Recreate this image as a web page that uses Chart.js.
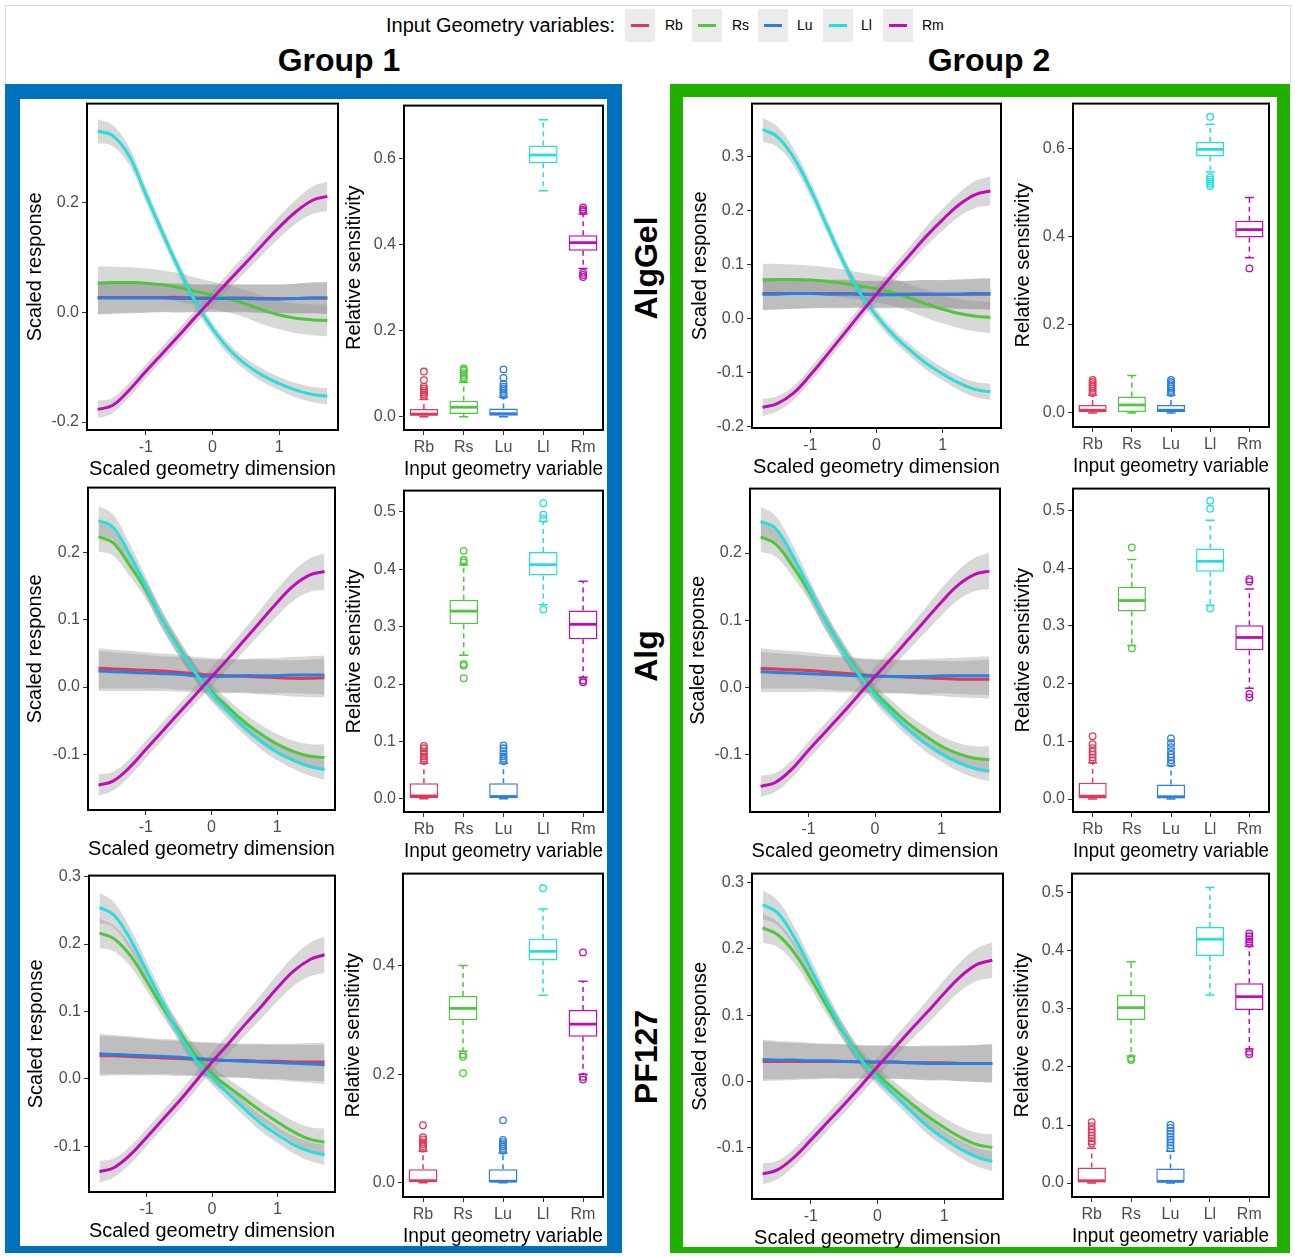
<!DOCTYPE html>
<html>
<head>
<meta charset="utf-8">
<script src="https://cdn.jsdelivr.net/npm/chart.js@4.4.0/dist/chart.umd.min.js"></script>
<style>
  body { margin: 0; background: #fff; font-family: "Liberation Sans", Arial, sans-serif; }
  #page { position: relative; width: 1295px; height: 1256px; overflow: hidden; background: #fff; }
  .frame { position: absolute; box-sizing: border-box; }
  .grp { position: absolute; font-weight: bold; font-size: 32px; transform: translate(-50%, -50%); white-space: nowrap; }
  .rowlab { position: absolute; font-weight: bold; font-size: 32px; transform: translate(-50%, -50%) rotate(-90deg); white-space: nowrap; }
  .key { position: absolute; top: 9px; width: 30px; height: 33px; background: #ebebeb; }
  .key i { position: absolute; left: 6px; top: 15px; width: 18px; height: 3px; }
  .klab { position: absolute; top: 17px; font-size: 14px; }
  canvas { position: absolute; }
</style>
</head>
<body>
<div id="page">
  <div class="frame" style="left:5px;top:5px;width:1286px;height:80px;border:1px solid #ddd;border-bottom:none;"></div>
  <div style="position:absolute;left:386px;top:13px;font-size:20px;line-height:24px;">Input Geometry variables:</div>
  <div id="legend"></div>
  <div class="grp" style="left:339px;top:60px;">Group 1</div>
  <div class="grp" style="left:989px;top:60px;">Group 2</div>
  <div class="frame" style="left:5px;top:84px;width:617px;height:1169px;border:15px solid #0071bc;border-bottom-width:7px;"></div>
  <div class="frame" style="left:670px;top:84px;width:620px;height:1169px;border:13px solid #21b000;border-bottom-width:6px;"></div>
  <div class="rowlab" style="left:646px;top:268px;">AlgGel</div>
  <div class="rowlab" style="left:646px;top:656px;">Alg</div>
  <div class="rowlab" style="left:646px;top:1057px;">PF127</div>
</div>
<script>
// ---- data ----
const varNames = ['Rb', 'Rs', 'Lu', 'Ll', 'Rm'];
const varColors = ['#dc3a58', '#4cc83a', '#2a7fe0', '#26dede', '#c00cb8'];

// scaled geometry dimension (x) used by every response curve
const geomX = [-1.72, -1.5, -1.25, -1, -0.75, -0.5, -0.25, 0, 0.25, 0.5, 0.75, 1, 1.25, 1.5, 1.72];

// half widths of the grey confidence bands
const bandFlat = [0.030, 0.029, 0.028, 0.027, 0.026, 0.026, 0.025, 0.025, 0.025, 0.025, 0.026, 0.026, 0.027, 0.028, 0.029];
const bandRs = [0.022, 0.019, 0.016, 0.014, 0.013, 0.012, 0.012, 0.012, 0.012, 0.013, 0.014, 0.015, 0.016, 0.018, 0.020];
const bandLl = [0.022, 0.019, 0.016, 0.014, 0.013, 0.012, 0.011, 0.011, 0.011, 0.011, 0.012, 0.012, 0.013, 0.014, 0.015];
const bandRm = [0.016, 0.014, 0.013, 0.013, 0.013, 0.013, 0.013, 0.014, 0.015, 0.016, 0.018, 0.020, 0.022, 0.025, 0.027];

// Group 1 - AlgGel
const g1AlgGelRb = [0.027, 0.027, 0.027, 0.027, 0.027, 0.027, 0.026, 0.026, 0.026, 0.026, 0.025, 0.025, 0.025, 0.026, 0.026];
const g1AlgGelRs = [0.053, 0.054, 0.054, 0.053, 0.050, 0.045, 0.038, 0.031, 0.024, 0.015, 0.004, -0.005, -0.011, -0.014, -0.015];
const g1AlgGelLu = [0.026, 0.026, 0.026, 0.026, 0.026, 0.025, 0.025, 0.025, 0.025, 0.025, 0.024, 0.024, 0.025, 0.026, 0.026];
const g1AlgGelLl = [0.330, 0.322, 0.285, 0.215, 0.145, 0.078, 0.018, -0.030, -0.068, -0.095, -0.115, -0.130, -0.142, -0.150, -0.153];
const g1AlgGelRm = [-0.177, -0.170, -0.142, -0.108, -0.075, -0.042, -0.008, 0.025, 0.058, 0.090, 0.123, 0.155, 0.183, 0.204, 0.211];
// Group 2 - AlgGel
const g2AlgGelRb = [0.046, 0.046, 0.046, 0.046, 0.046, 0.046, 0.045, 0.045, 0.045, 0.045, 0.045, 0.045, 0.045, 0.045, 0.045];
const g2AlgGelRs = [0.071, 0.072, 0.072, 0.071, 0.069, 0.065, 0.060, 0.055, 0.048, 0.038, 0.027, 0.017, 0.009, 0.004, 0.002];
const g2AlgGelLu = [0.045, 0.045, 0.046, 0.046, 0.045, 0.045, 0.045, 0.044, 0.044, 0.045, 0.045, 0.045, 0.045, 0.046, 0.046];
const g2AlgGelLl = [0.350, 0.337, 0.298, 0.240, 0.172, 0.105, 0.047, 0.005, -0.030, -0.058, -0.083, -0.103, -0.120, -0.132, -0.136];
const g2AlgGelRm = [-0.165, -0.158, -0.138, -0.105, -0.068, -0.030, 0.008, 0.045, 0.082, 0.117, 0.152, 0.183, 0.211, 0.230, 0.236];
// Group 1 - Alg
const g1AlgRb = [0.028, 0.027, 0.026, 0.025, 0.024, 0.022, 0.020, 0.018, 0.017, 0.016, 0.015, 0.014, 0.013, 0.013, 0.014];
const g1AlgRs = [0.224, 0.215, 0.182, 0.145, 0.100, 0.060, 0.022, -0.007, -0.030, -0.052, -0.070, -0.085, -0.096, -0.103, -0.105];
const g1AlgLu = [0.024, 0.023, 0.022, 0.021, 0.020, 0.019, 0.017, 0.016, 0.016, 0.017, 0.017, 0.017, 0.018, 0.018, 0.018];
const g1AlgLl = [0.248, 0.238, 0.198, 0.150, 0.100, 0.058, 0.022, -0.010, -0.036, -0.060, -0.080, -0.097, -0.109, -0.118, -0.123];
const g1AlgRm = [-0.146, -0.140, -0.120, -0.093, -0.066, -0.039, -0.012, 0.015, 0.042, 0.070, 0.098, 0.126, 0.151, 0.167, 0.172];
// Group 2 - Alg
const g2AlgRb = [0.028, 0.027, 0.026, 0.025, 0.023, 0.021, 0.019, 0.017, 0.016, 0.015, 0.014, 0.013, 0.012, 0.012, 0.012];
const g2AlgRs = [0.224, 0.214, 0.182, 0.144, 0.100, 0.059, 0.022, -0.008, -0.032, -0.054, -0.072, -0.088, -0.099, -0.106, -0.108];
const g2AlgLu = [0.023, 0.022, 0.021, 0.020, 0.019, 0.018, 0.017, 0.016, 0.016, 0.016, 0.016, 0.017, 0.017, 0.017, 0.017];
const g2AlgLl = [0.247, 0.237, 0.198, 0.149, 0.099, 0.057, 0.020, -0.012, -0.039, -0.063, -0.083, -0.099, -0.112, -0.121, -0.125];
const g2AlgRm = [-0.148, -0.142, -0.122, -0.094, -0.067, -0.040, -0.012, 0.016, 0.043, 0.071, 0.099, 0.127, 0.152, 0.168, 0.173];
// Group 1 - PF127
const g1PfRb = [0.034, 0.034, 0.033, 0.032, 0.031, 0.030, 0.029, 0.028, 0.027, 0.027, 0.026, 0.026, 0.025, 0.025, 0.025];
const g1PfRs = [0.216, 0.208, 0.183, 0.145, 0.105, 0.070, 0.035, 0.007, -0.012, -0.030, -0.048, -0.064, -0.079, -0.090, -0.094];
const g1PfLu = [0.037, 0.036, 0.035, 0.034, 0.033, 0.032, 0.030, 0.029, 0.027, 0.026, 0.025, 0.024, 0.023, 0.022, 0.021];
const g1PfLl = [0.254, 0.243, 0.207, 0.160, 0.112, 0.066, 0.028, 0.002, -0.022, -0.045, -0.066, -0.083, -0.098, -0.108, -0.113];
const g1PfRm = [-0.138, -0.132, -0.113, -0.087, -0.060, -0.033, -0.004, 0.025, 0.052, 0.080, 0.107, 0.135, 0.160, 0.177, 0.184];
// Group 2 - PF127
const g2PfRb = [0.030, 0.030, 0.030, 0.030, 0.030, 0.030, 0.029, 0.029, 0.029, 0.028, 0.028, 0.028, 0.027, 0.027, 0.027];
const g2PfRs = [0.232, 0.222, 0.195, 0.155, 0.112, 0.072, 0.037, 0.010, -0.012, -0.033, -0.053, -0.070, -0.085, -0.096, -0.100];
const g2PfLu = [0.033, 0.032, 0.032, 0.031, 0.031, 0.030, 0.030, 0.029, 0.029, 0.028, 0.027, 0.027, 0.027, 0.027, 0.027];
const g2PfLl = [0.267, 0.255, 0.218, 0.170, 0.120, 0.073, 0.033, 0.005, -0.020, -0.045, -0.068, -0.087, -0.103, -0.115, -0.121];
const g2PfRm = [-0.140, -0.134, -0.115, -0.089, -0.062, -0.035, -0.007, 0.022, 0.050, 0.078, 0.105, 0.133, 0.159, 0.177, 0.183];

// relative sensitivity boxes: [lower whisker, q1, median, q3, upper whisker] for Rb, Rs, Lu, Ll, Rm
const boxG1AlgGel = [[0, 0.002, 0.006, 0.018, 0.040], [0, 0.006, 0.022, 0.037, 0.080], [0, 0.002, 0.007, 0.019, 0.045], [0.526, 0.590, 0.609, 0.631, 0.691], [0.345, 0.386, 0.405, 0.422, 0.472]];
const outG1AlgGel = [[0.048, 0.052, 0.056, 0.06, 0.065, 0.07, 0.085, 0.105], [0.088, 0.092, 0.097, 0.102, 0.108, 0.112], [0.05, 0.055, 0.06, 0.065, 0.07, 0.076, 0.09, 0.11], [], [0.325, 0.33, 0.335, 0.478, 0.482, 0.487]];
const boxG2AlgGel = [[0, 0.002, 0.006, 0.018, 0.040], [0, 0.002, 0.018, 0.037, 0.085], [0, 0.002, 0.006, 0.018, 0.040], [0.547, 0.582, 0.598, 0.615, 0.655], [0.352, 0.398, 0.416, 0.436, 0.489]];
const outG2AlgGel = [[0.045, 0.05, 0.055, 0.06, 0.065, 0.07, 0.075], [], [0.045, 0.05, 0.055, 0.06, 0.065, 0.07, 0.075], [0.515, 0.52, 0.525, 0.53, 0.535, 0.672], [0.328]];
const boxG1Alg = [[0, 0.001, 0.005, 0.027, 0.062], [0.250, 0.304, 0.327, 0.347, 0.408], [0, 0.001, 0.004, 0.027, 0.062], [0.338, 0.389, 0.408, 0.430, 0.483], [0.212, 0.278, 0.304, 0.328, 0.379]];
const outG1Alg = [[0.066, 0.07, 0.074, 0.078, 0.083, 0.088, 0.092], [0.21, 0.232, 0.235, 0.412, 0.416, 0.432], [0.066, 0.07, 0.074, 0.078, 0.083, 0.088, 0.093], [0.33, 0.488, 0.495, 0.515], [0.203, 0.206]];
const boxG2Alg = [[0, 0.001, 0.005, 0.028, 0.063], [0.266, 0.325, 0.344, 0.368, 0.415], [0, 0.001, 0.004, 0.025, 0.058], [0.336, 0.394, 0.412, 0.434, 0.483], [0.192, 0.258, 0.280, 0.301, 0.364]];
const outG2Alg = [[0.067, 0.072, 0.077, 0.082, 0.088, 0.095, 0.109], [0.261, 0.436], [0.062, 0.067, 0.072, 0.077, 0.083, 0.09, 0.097, 0.105], [0.330, 0.503, 0.517], [0.176, 0.182, 0.377, 0.381]];
const boxG1Pf = [[0, 0.001, 0.004, 0.025, 0.058], [0.242, 0.299, 0.321, 0.344, 0.400], [0, 0.001, 0.003, 0.025, 0.055], [0.345, 0.409, 0.426, 0.449, 0.504], [0.200, 0.269, 0.292, 0.318, 0.371]];
const outG1Pf = [[0.063, 0.067, 0.071, 0.075, 0.08, 0.084, 0.106], [0.202, 0.232, 0.236], [0.059, 0.063, 0.067, 0.071, 0.075, 0.079, 0.115], [0.542], [0.19, 0.195, 0.424]];
const boxG2Pf = [[0, 0.001, 0.004, 0.027, 0.060], [0.219, 0.281, 0.302, 0.324, 0.381], [0, 0.001, 0.003, 0.025, 0.055], [0.324, 0.391, 0.420, 0.441, 0.509], [0.231, 0.298, 0.321, 0.344, 0.408]];
const outG2Pf = [[0.068, 0.072, 0.077, 0.082, 0.087, 0.092, 0.098, 0.105], [0.212, 0.215], [0.06, 0.065, 0.07, 0.075, 0.08, 0.085, 0.09, 0.095, 0.1], [], [0.222, 0.226, 0.412, 0.416, 0.42, 0.425, 0.43]];

// ---- drawing ----
const FONT = "'Liberation Sans', Arial, sans-serif";
Chart.defaults.font.family = FONT;
const page = document.getElementById('page');
const PAD_T = 12, PAD_R = 6, X_H = 51;
const TITLE_SIZE = 20;

// legend keys in the header
const keyLeft = [625, 692, 758, 823, 883];
const labLeft = [665, 732, 797, 861, 922];
const legend = document.getElementById('legend');
varNames.forEach((n, i) => {
  legend.insertAdjacentHTML('beforeend',
    `<div class="key" style="left:${keyLeft[i]}px"><i style="background:${varColors[i]}"></i></div>` +
    `<div class="klab" style="left:${labLeft[i]}px">${n}</div>`);
});

const framePlugin = {
  id: 'frame',
  afterDraw(chart) {
    const a = chart.chartArea, c = chart.ctx;
    c.save();
    c.strokeStyle = '#000';
    c.lineWidth = 2;
    c.strokeRect(a.left, a.top, a.right - a.left, a.bottom - a.top);
    c.restore();
  }
};

function makeCanvas(r) {
  const w = r.yW + (r.R - r.L) + PAD_R;
  const h = PAD_T + (r.B - r.T) + X_H;
  const cv = document.createElement('canvas');
  cv.width = w; cv.height = h;
  cv.style.left = (r.L - r.yW) + 'px';
  cv.style.top = (r.T - PAD_T) + 'px';
  cv.style.width = w + 'px';
  cv.style.height = h + 'px';
  page.appendChild(cv);
  return cv;
}

function fmt1(v) { return Math.abs(v) < 1e-9 ? '0.0' : Number(v).toFixed(1); }

function axisY(r, min, max, step, title) {
  return {
    min: min, max: max,
    afterFit: s => { s.width = r.yW; },
    ticks: { stepSize: step, includeBounds: false, color: '#4d4d4d', font: { size: 16 }, padding: 3, callback: v => fmt1(v) },
    grid: { drawOnChartArea: false, drawTicks: true, tickLength: 5, color: '#333' },
    border: { display: false },
    title: { display: true, text: title, color: '#000', font: { size: TITLE_SIZE }, padding: 0 }
  };
}

function axisXTitle(title) {
  return { display: true, text: title, color: '#000', font: { size: TITLE_SIZE }, padding: 0 };
}

function responsePanel(r, yMin, yMax, yStep, series, bands) {
  const datasets = [];
  series.forEach((vals, i) => {
    datasets.push({
      data: geomX.map((x, k) => ({ x: x, y: vals[k] - bands[i][k] })),
      borderWidth: 0, pointRadius: 0, fill: false, order: 10, tension: 0.4
    });
    datasets.push({
      data: geomX.map((x, k) => ({ x: x, y: vals[k] + bands[i][k] })),
      borderWidth: 0, pointRadius: 0, fill: '-1', backgroundColor: 'rgba(140,140,140,0.34)',
      order: 10, tension: 0.4
    });
  });
  series.forEach((vals, i) => {
    datasets.push({
      data: geomX.map((x, k) => ({ x: x, y: vals[k] })),
      borderColor: varColors[i], borderWidth: 3, pointRadius: 0, fill: false,
      order: 5 - i, tension: 0.4
    });
  });
  new Chart(makeCanvas(r), {
    type: 'line',
    data: { datasets: datasets },
    options: {
      responsive: false, animation: false,
      layout: { padding: { top: PAD_T, right: PAD_R, left: 0, bottom: 0 } },
      plugins: { legend: { display: false }, tooltip: { enabled: false } },
      scales: {
        x: {
          type: 'linear', min: -1.88, max: 1.88,
          afterFit: s => { s.height = X_H; },
          ticks: { stepSize: 1, includeBounds: false, color: '#4d4d4d', font: { size: 16 }, padding: 3 },
          grid: { drawOnChartArea: false, drawTicks: true, tickLength: 5, color: '#333' },
          border: { display: false },
          title: axisXTitle('Scaled geometry dimension')
        },
        y: axisY(r, yMin, yMax, yStep, 'Scaled response')
      }
    },
    plugins: [framePlugin]
  });
}

function sensitivityPanel(r, yMin, yMax, yStep, stats, outliers) {
  const outPts = [], outCols = [];
  outliers.forEach((list, i) => list.forEach(v => { outPts.push({ x: varNames[i], y: v }); outCols.push(varColors[i]); }));
  const whiskers = {
    id: 'whiskers',
    afterDatasetsDraw(chart) {
      const y = chart.scales.y, c = chart.ctx;
      const meta = chart.getDatasetMeta(0);
      stats.forEach((s, i) => {
        const bar = meta.data[i];
        const cx = bar.x, half = bar.width / 2, cap = half * 0.32;
        const p = s.map(v => y.getPixelForValue(v));
        c.save();
        c.strokeStyle = varColors[i];
        c.lineWidth = 1.5;
        c.setLineDash([5, 4]);
        c.beginPath();
        c.moveTo(cx, p[1]); c.lineTo(cx, p[0]);
        c.moveTo(cx, p[3]); c.lineTo(cx, p[4]);
        c.stroke();
        c.setLineDash([]);
        c.beginPath();
        c.moveTo(cx - cap, p[0]); c.lineTo(cx + cap, p[0]);
        c.moveTo(cx - cap, p[4]); c.lineTo(cx + cap, p[4]);
        c.stroke();
        c.lineWidth = 2.8;
        c.beginPath();
        c.moveTo(cx - half + 1, p[2]); c.lineTo(cx + half - 1, p[2]);
        c.stroke();
        c.restore();
      });
    }
  };
  new Chart(makeCanvas(r), {
    type: 'bar',
    data: {
      labels: varNames,
      datasets: [
        {
          data: stats.map(s => [s[1], s[3]]),
          backgroundColor: '#fff', borderColor: varColors, borderWidth: 1.5, borderSkipped: false,
          barPercentage: 0.72, categoryPercentage: 1
        },
        {
          type: 'line', showLine: false, data: outPts,
          pointRadius: 3.3, pointBorderWidth: 1.3, pointBackgroundColor: 'rgba(0,0,0,0)', pointBorderColor: outCols
        }
      ]
    },
    options: {
      responsive: false, animation: false,
      layout: { padding: { top: PAD_T, right: PAD_R, left: 0, bottom: 0 } },
      plugins: { legend: { display: false }, tooltip: { enabled: false } },
      scales: {
        x: {
          type: 'category',
          afterFit: s => { s.height = X_H; },
          ticks: { color: '#4d4d4d', font: { size: 16 }, padding: 3 },
          grid: { offset: false, drawOnChartArea: false, drawTicks: true, tickLength: 5, color: '#333' },
          border: { display: false },
          title: axisXTitle('Input geometry variable')
        },
        y: axisY(r, yMin, yMax, yStep, 'Relative sensitivity')
      }
    },
    plugins: [whiskers, framePlugin]
  });
}

const bandsFlatRs = [bandFlat, bandFlat, bandFlat, bandLl, bandRm];
const bandsSlopeRs = [bandFlat, bandRs, bandFlat, bandLl, bandRm];

// row 1: AlgGel
responsePanel({ L: 87, T: 103, R: 338, B: 430, yW: 64 }, -0.2145, 0.380, 0.2,
  [g1AlgGelRb, g1AlgGelRs, g1AlgGelLu, g1AlgGelLl, g1AlgGelRm], bandsFlatRs);
sensitivityPanel({ L: 404, T: 105, R: 603, B: 430, yW: 62 }, -0.031, 0.724, 0.2, boxG1AlgGel, outG1AlgGel);
responsePanel({ L: 752, T: 103, R: 1001, B: 428, yW: 64 }, -0.203, 0.398, 0.1,
  [g2AlgGelRb, g2AlgGelRs, g2AlgGelLu, g2AlgGelLl, g2AlgGelRm], bandsFlatRs);
sensitivityPanel({ L: 1073, T: 103, R: 1269, B: 427, yW: 62 }, -0.032, 0.702, 0.2, boxG2AlgGel, outG2AlgGel);

// row 2: Alg
responsePanel({ L: 88, T: 487, R: 335, B: 810, yW: 65 }, -0.183, 0.297, 0.1,
  [g1AlgRb, g1AlgRs, g1AlgLu, g1AlgLl, g1AlgRm], bandsSlopeRs);
sensitivityPanel({ L: 404, T: 490, R: 603, B: 812, yW: 62 }, -0.023, 0.537, 0.1, boxG1Alg, outG1Alg);
responsePanel({ L: 750, T: 488, R: 1000, B: 812, yW: 64 }, -0.186, 0.296, 0.1,
  [g2AlgRb, g2AlgRs, g2AlgLu, g2AlgLl, g2AlgRm], bandsSlopeRs);
sensitivityPanel({ L: 1073, T: 488, R: 1269, B: 812, yW: 62 }, -0.0225, 0.538, 0.1, boxG2Alg, outG2Alg);

// row 3: PF127
responsePanel({ L: 89, T: 875, R: 335, B: 1192, yW: 65 }, -0.168, 0.3015, 0.1,
  [g1PfRb, g1PfRs, g1PfLu, g1PfLl, g1PfRm], bandsSlopeRs);
sensitivityPanel({ L: 403, T: 873, R: 603, B: 1197, yW: 62 }, -0.026, 0.569, 0.2, boxG1Pf, outG1Pf);
responsePanel({ L: 752, T: 873, R: 1003, B: 1199, yW: 64 }, -0.178, 0.314, 0.1,
  [g2PfRb, g2PfRs, g2PfLu, g2PfLl, g2PfRm], bandsSlopeRs);
sensitivityPanel({ L: 1072, T: 873, R: 1269, B: 1197, yW: 62 }, -0.024, 0.533, 0.1, boxG2Pf, outG2Pf);
</script>
</body>
</html>
